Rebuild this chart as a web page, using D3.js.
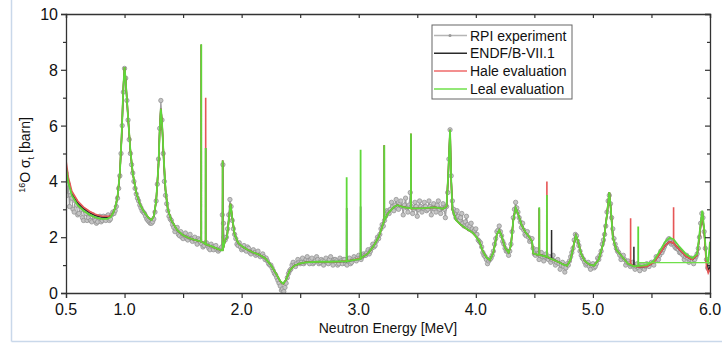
<!DOCTYPE html>
<html>
<head>
<meta charset="utf-8">
<script src="https://cdn.jsdelivr.net/npm/d3@7"></script>
<style>
  body { margin: 0; background: #fff; }
  text { font-family: "Liberation Sans", Arial, sans-serif; fill: #111; }
</style>
</head>
<body>
<div id="main"></div>
<script>
// ENDF/B-VII.1 smooth curve [MeV, barn]
var endfCurve = [
  [0.50,4.55],[0.52,4.0],[0.55,3.55],[0.60,3.22],[0.65,3.02],[0.70,2.88],[0.75,2.78],[0.80,2.72],
  [0.85,2.71],[0.88,2.76],[0.90,2.85],[0.92,3.05],[0.94,3.45],[0.96,4.3],[0.975,5.6],[0.99,7.4],
  [1.00,8.1],[1.01,7.6],[1.03,6.3],[1.05,5.1],[1.07,4.3],[1.10,3.6],[1.13,3.2],[1.16,2.95],
  [1.20,2.72],[1.23,2.62],[1.25,2.75],[1.27,3.3],[1.29,4.6],[1.30,5.8],[1.31,6.6],[1.32,6.1],
  [1.335,4.8],[1.35,3.7],[1.37,3.0],[1.40,2.6],[1.45,2.25],[1.50,2.07],[1.55,1.97],[1.60,1.9],
  [1.65,1.85],[1.70,1.74],[1.75,1.66],[1.80,1.57],[1.83,1.53],[1.86,1.9],[1.875,2.0],[1.89,2.6],
  [1.905,3.2],[1.92,2.7],[1.94,2.1],[1.97,1.8],[2.00,1.68],[2.05,1.55],[2.10,1.45],[2.15,1.37],
  [2.20,1.25],[2.25,1.0],[2.29,0.72],[2.33,0.42],[2.355,0.33],[2.38,0.48],[2.41,0.8],[2.45,0.98],
  [2.50,1.06],[2.55,1.1],[2.65,1.12],[2.75,1.12],[2.85,1.13],[2.95,1.18],[3.02,1.25],[3.08,1.42],
  [3.13,1.7],[3.17,2.0],[3.21,2.5],[3.25,2.85],[3.30,3.08],[3.33,3.15],[3.38,3.08],[3.45,3.03],
  [3.55,3.04],[3.65,3.07],[3.72,3.02],[3.75,3.1],[3.765,4.3],[3.78,5.85],[3.79,4.0],[3.80,3.0],
  [3.83,2.62],[3.87,2.45],[3.92,2.3],[3.97,2.17],[4.00,2.03],[4.03,1.85],[4.06,1.5],[4.09,1.28],
  [4.12,1.18],[4.15,1.45],[4.18,2.1],[4.20,2.25],[4.22,2.05],[4.25,1.62],[4.28,1.45],[4.30,1.7],
  [4.32,2.6],[4.34,3.05],[4.36,2.85],[4.39,2.45],[4.42,2.2],[4.46,1.98],[4.48,1.85],[4.49,1.42],
  [4.52,1.38],[4.56,1.35],[4.60,1.3],[4.64,1.23],[4.70,1.12],[4.75,1.02],[4.78,0.98],[4.81,1.2],
  [4.84,1.8],[4.855,2.06],[4.87,1.9],[4.90,1.4],[4.93,1.15],[4.97,1.02],[5.01,0.98],[5.05,1.2],
  [5.09,1.8],[5.12,2.8],[5.14,3.62],[5.155,2.9],[5.17,2.0],[5.20,1.55],[5.25,1.3],[5.30,1.05],
  [5.35,0.96],[5.40,0.93],[5.46,0.95],[5.52,1.1],[5.57,1.4],[5.62,1.72],[5.655,1.84],[5.69,1.78],
  [5.74,1.55],[5.80,1.3],[5.85,1.2],[5.89,1.35],[5.915,2.2],[5.934,2.88],[5.95,2.2],[5.97,1.1],
  [5.985,0.8],[6.00,0.95]
];

// narrow resonances: [MeV, base, top]
var endfSpikes = [
  [1.655,1.85,8.9],[1.693,1.75,5.2],[1.838,1.53,4.75],[2.897,1.13,3.05],[3.016,1.22,3.1],
  [3.218,2.6,5.3],[3.446,3.03,5.7],[4.542,1.37,3.05],[4.647,1.23,2.26],[5.35,0.96,1.66]
];
var haleSpikes = [
  [1.655,1.85,8.9],[1.693,1.75,7.0],[1.838,1.53,4.75],[3.218,2.6,5.3],[3.446,3.03,5.72],
  [4.542,1.37,3.0],[4.607,1.31,4.0],[5.322,1.04,2.68],[5.689,1.78,3.07]
];
var lealSpikes = [
  [1.655,1.85,8.92],[1.693,1.75,5.2],[1.838,1.53,4.75],[2.897,1.13,4.15],[3.016,1.22,5.13],
  [3.218,2.6,5.3],[3.446,3.03,5.72],[4.542,1.37,3.07],[4.607,1.31,3.51],[5.387,0.97,2.38]
];

// places where an evaluation departs from the ENDF curve
var haleEdits = [
  [[0.50,4.75],[0.52,4.15],[0.55,3.65],[0.60,3.3],[0.65,3.08],[0.70,2.93],[0.75,2.82],[0.80,2.76],[0.85,2.75]],
  [[5.97,0.95],[5.985,0.72],[6.00,0.85]]
];
var lealEdits = [
  [[0.50,4.5],[0.52,3.95],[0.55,3.5],[0.60,3.15],[0.65,2.95],[0.70,2.81],[0.75,2.71],[0.80,2.66],[0.85,2.66],[0.88,2.71]],
  [[5.40,0.97],[5.46,1.0],[5.52,1.15],[5.57,1.5],[5.62,1.85],[5.655,1.98],[5.69,1.92],[5.74,1.65],[5.80,1.38],
   [5.85,1.25],[5.89,1.4],[5.915,2.3],[5.934,2.95],[5.95,2.3],[5.97,1.2],[5.985,1.1],[6.00,1.84]]
];
var lealFlat = [[5.387,1.09],[6.00,1.09]];

// RPI transmission data, even hundredths
var rpiData = [
  [0.50,4.3],[0.51,3.5],[0.52,3.9],[0.53,3.1],[0.54,3.5],[0.56,3.0],[0.58,3.3],[0.60,2.8],[0.62,3.1],
  [0.64,2.7],[0.66,2.95],[0.68,2.6],[0.70,2.85],[0.72,2.55],[0.74,2.75],[0.76,2.5],[0.78,2.7],[0.80,2.55],
  [0.82,2.75],[0.84,2.6],[0.86,2.8],[0.88,2.65],[0.90,2.9],[0.92,2.95],[0.94,3.4],[0.96,4.2],[0.97,5.0],
  [0.98,6.0],[0.99,7.2],[1.00,8.05],[1.01,7.7],[1.02,6.9],[1.03,6.2],[1.04,5.5],[1.05,5.0],[1.06,4.6],
  [1.08,4.0],[1.10,3.55],[1.12,3.3],[1.14,3.05],[1.16,2.9],[1.18,2.75],[1.20,2.6],[1.22,2.5],[1.24,2.55],
  [1.26,2.9],[1.28,3.9],[1.29,4.8],[1.30,5.9],[1.31,6.9],[1.32,6.2],[1.33,5.0],[1.34,4.0],[1.36,3.2],
  [1.38,2.75],[1.40,2.6],[1.42,2.35],[1.44,2.3],[1.46,2.1],[1.48,2.2],[1.50,1.95],[1.52,2.15],[1.54,1.9],
  [1.56,2.1],[1.58,1.85],[1.60,2.0],[1.62,1.75],[1.64,1.9],[1.66,1.75],[1.68,1.7],[1.70,1.8],[1.72,1.6],
  [1.74,1.75],[1.76,1.55],[1.78,1.7],[1.80,1.5],[1.82,1.6],[1.835,2.8],[1.84,4.6],[1.845,2.5],[1.86,1.9],
  [1.88,2.3],[1.90,3.35],[1.91,3.1],[1.92,2.6],[1.94,2.1],[1.96,1.75],[1.98,1.8],[2.00,1.55],[2.02,1.7],
  [2.04,1.5],[2.06,1.6],[2.08,1.4],[2.10,1.55],[2.12,1.35],[2.14,1.5],[2.16,1.3],[2.18,1.4],[2.20,1.2],
  [2.22,1.15],[2.24,1.0],[2.26,0.9],[2.28,0.7],[2.30,0.55],[2.32,0.35],[2.34,0.1],[2.36,0.05],[2.38,0.35],
  [2.40,0.7],[2.42,0.85],[2.44,1.1],[2.46,0.95],[2.48,1.2],[2.50,1.05],[2.52,1.25],[2.54,1.1],[2.56,1.3],
  [2.58,1.05],[2.60,1.25],[2.62,1.1],[2.64,1.3],[2.66,1.05],[2.68,1.2],[2.70,1.0],[2.72,1.25],[2.74,1.05],
  [2.76,1.3],[2.78,1.0],[2.80,1.2],[2.82,1.0],[2.84,1.25],[2.86,1.05],[2.88,1.2],[2.90,1.0],[2.92,1.25],
  [2.94,1.1],[2.96,1.3],[2.98,1.15],[3.00,1.35],[3.02,1.2],[3.04,1.4],[3.06,1.35],[3.08,1.55],[3.10,1.5],
  [3.12,1.75],[3.14,1.7],[3.16,2.0],[3.18,2.1],[3.20,2.45],[3.22,2.6],[3.24,2.95],[3.26,2.85],[3.28,3.25],
  [3.30,2.95],[3.32,3.35],[3.34,3.0],[3.36,3.3],[3.38,2.8],[3.40,3.4],[3.42,2.9],[3.44,3.6],[3.46,2.85],
  [3.48,3.25],[3.50,2.75],[3.52,3.3],[3.54,2.9],[3.56,3.25],[3.58,2.95],[3.60,3.3],[3.62,2.8],[3.64,3.2],
  [3.66,2.9],[3.68,3.3],[3.70,2.85],[3.72,3.2],[3.74,2.7],[3.76,3.6],[3.77,4.8],[3.78,5.85],[3.79,4.2],
  [3.80,3.3],[3.82,2.85],[3.84,2.95],[3.86,2.6],[3.88,2.85],[3.90,2.4],[3.92,2.75],[3.94,2.3],[3.96,2.5],
  [3.98,2.2],[4.00,2.3],[4.02,1.9],[4.04,1.8],[4.06,1.45],[4.08,1.3],[4.10,1.05],[4.12,1.2],[4.14,1.35],
  [4.16,1.75],[4.18,2.2],[4.20,2.4],[4.22,2.05],[4.24,1.75],[4.26,1.5],[4.28,1.35],[4.30,1.75],[4.32,2.7],
  [4.34,3.25],[4.36,2.9],[4.38,2.55],[4.40,2.5],[4.42,2.1],[4.44,2.2],[4.46,1.85],[4.48,1.95],[4.50,1.4],
  [4.52,1.55],[4.54,1.2],[4.56,1.45],[4.58,1.15],[4.60,1.4],[4.62,1.2],[4.64,1.1],[4.66,1.35],[4.68,1.0],
  [4.70,1.2],[4.72,0.85],[4.74,1.1],[4.76,0.75],[4.78,1.05],[4.80,1.15],[4.82,1.45],[4.84,1.9],[4.86,2.05],
  [4.88,1.7],[4.90,1.35],[4.92,1.2],[4.94,1.0],[4.96,1.1],[4.98,0.85],[5.00,1.05],[5.02,0.95],[5.04,1.25],
  [5.06,1.35],[5.08,1.75],[5.10,2.1],[5.12,2.9],[5.14,3.5],[5.16,2.7],[5.18,1.95],[5.20,1.6],[5.22,1.45],
  [5.24,1.2],[5.26,1.35],[5.28,1.0],[5.30,1.15],[5.32,0.95],[5.34,1.1],[5.36,0.85],[5.38,1.05],[5.40,0.8],
  [5.42,1.0],[5.44,0.85],[5.46,1.05],[5.48,0.95],[5.50,1.1],[5.52,1.0],[5.54,1.3],[5.56,1.2],[5.58,1.5],
  [5.60,1.55],[5.62,1.75],[5.64,1.9],[5.66,1.85],[5.68,1.8],[5.70,1.65],[5.72,1.6],[5.74,1.45],[5.76,1.4],
  [5.78,1.2],[5.80,1.35],[5.82,1.1],[5.84,1.25],[5.86,1.05],[5.88,1.3],[5.90,1.6],[5.92,2.5],[5.94,2.7],
  [5.96,1.6],[5.98,0.9],[6.00,1.0]
];

// RPI transmission data, odd hundredths
var rpiDataOdd = [
  [0.55,3.4],[0.57,2.9],[0.59,3.15],[0.61,2.85],[0.63,3.0],[0.65,2.6],[0.67,2.85],[0.69,2.7],[0.71,2.6],
  [0.73,2.8],[0.75,2.6],[0.77,2.55],[0.79,2.75],[0.81,2.6],[0.83,2.65],[0.85,2.75],[0.87,2.6],[0.89,2.8],
  [0.91,2.85],[0.93,3.1],[0.95,3.75],[1.07,4.3],[1.09,3.75],[1.11,3.4],[1.13,3.15],[1.15,2.95],[1.17,2.85],
  [1.19,2.65],[1.21,2.55],[1.23,2.5],[1.25,2.65],[1.27,3.3],[1.35,3.5],[1.37,2.95],[1.39,2.65],[1.41,2.45],
  [1.43,2.2],[1.45,2.35],[1.47,2.05],[1.49,2.0],[1.51,2.05],[1.53,1.95],[1.55,2.0],[1.57,1.95],[1.59,1.95],
  [1.61,1.85],[1.63,1.95],[1.65,1.8],[1.67,1.65],[1.69,1.8],[1.71,1.7],[1.73,1.55],[1.75,1.65],[1.77,1.65],
  [1.79,1.55],[1.81,1.55],[1.83,1.65],[1.85,2.0],[1.87,2.0],[1.89,2.8],[1.93,2.3],[1.95,1.95],[1.97,1.7],
  [1.99,1.65],[2.01,1.6],[2.03,1.55],[2.05,1.65],[2.07,1.45],[2.09,1.5],[2.11,1.45],[2.13,1.4],[2.15,1.35],
  [2.17,1.35],[2.19,1.3],[2.21,1.25],[2.23,1.05],[2.25,1.0],[2.27,0.8],[2.29,0.65],[2.31,0.45],[2.33,0.25],
  [2.35,0.15],[2.37,0.2],[2.39,0.55],[2.41,0.8],[2.43,1.0],[2.45,1.0],[2.47,1.05],[2.49,1.1],[2.51,1.1],
  [2.53,1.05],[2.55,1.2],[2.57,1.15],[2.59,1.2],[2.61,1.05],[2.63,1.15],[2.65,1.2],[2.67,1.1],[2.69,1.15],
  [2.71,1.15],[2.73,1.1],[2.75,1.2],[2.77,1.1],[2.79,1.2],[2.81,1.15],[2.83,1.05],[2.85,1.15],[2.87,1.2],
  [2.89,1.05],[2.91,1.15],[2.93,1.05],[2.95,1.2],[2.97,1.2],[2.99,1.25],[3.01,1.25],[3.03,1.3],[3.05,1.35],
  [3.07,1.45],[3.09,1.4],[3.11,1.6],[3.13,1.65],[3.15,1.85],[3.17,1.95],[3.19,2.3],[3.21,2.4],[3.23,2.75],
  [3.25,2.9],[3.27,3.0],[3.29,3.1],[3.31,3.15],[3.33,3.05],[3.35,3.2],[3.37,3.1],[3.39,3.15],[3.41,3.05],
  [3.43,3.15],[3.45,3.1],[3.47,3.0],[3.49,3.1],[3.51,3.0],[3.53,3.1],[3.55,3.05],[3.57,3.1],[3.59,3.0],
  [3.61,3.1],[3.63,3.05],[3.65,3.0],[3.67,3.15],[3.69,3.0],[3.71,3.05],[3.73,3.0],[3.75,3.1],[3.81,3.0],
  [3.83,2.7],[3.85,2.75],[3.87,2.7],[3.89,2.5],[3.91,2.55],[3.93,2.45],[3.95,2.4],[3.97,2.3],[3.99,2.25],
  [4.01,2.1],[4.03,1.85],[4.05,1.65],[4.07,1.35],[4.09,1.2],[4.11,1.15],[4.13,1.25],[4.15,1.5],[4.17,1.95],
  [4.19,2.25],[4.21,2.2],[4.23,1.85],[4.25,1.6],[4.27,1.5],[4.29,1.5],[4.31,2.2],[4.33,3.0],[4.35,3.05],
  [4.37,2.7],[4.39,2.35],[4.41,2.25],[4.43,2.05],[4.45,2.0],[4.47,1.9],[4.49,1.6],[4.51,1.35],[4.53,1.4],
  [4.55,1.35],[4.57,1.3],[4.59,1.3],[4.61,1.25],[4.63,1.3],[4.65,1.2],[4.67,1.15],[4.69,1.1],[4.71,1.05],
  [4.73,1.0],[4.75,0.95],[4.77,0.9],[4.79,1.0],[4.81,1.3],[4.83,1.6],[4.85,2.1],[4.87,1.85],[4.89,1.5],
  [4.91,1.25],[4.93,1.1],[4.95,1.05],[4.97,0.95],[4.99,1.0],[5.01,0.9],[5.03,1.05],[5.05,1.2],[5.07,1.5],
  [5.09,1.9],[5.11,2.4],[5.13,3.3],[5.15,3.2],[5.17,2.3],[5.19,1.75],[5.21,1.5],[5.23,1.35],[5.25,1.3],
  [5.27,1.2],[5.29,1.1],[5.31,1.05],[5.33,1.0],[5.35,0.95],[5.37,0.95],[5.39,0.9],[5.41,0.95],[5.43,0.9],
  [5.45,0.95],[5.47,1.0],[5.49,1.05],[5.51,1.05],[5.53,1.15],[5.55,1.25],[5.57,1.35],[5.59,1.45],[5.61,1.65],
  [5.63,1.8],[5.65,1.95],[5.67,1.75],[5.69,1.75],[5.71,1.6],[5.73,1.55],[5.75,1.45],[5.77,1.35],[5.79,1.3],
  [5.81,1.25],[5.83,1.2],[5.85,1.15],[5.87,1.2],[5.89,1.4],[5.91,2.0],[5.93,2.85],[5.95,2.2],[5.97,1.2],
  [5.99,0.85]
];

var xTicks = [0.5, 1, 1.5, 2, 2.5, 3, 3.5, 4, 4.5, 5, 5.5, 6];
var xLabels = [0.5, 1, 2, 3, 4, 5, 6];
var yTicks = [0, 1, 2, 3, 4, 5, 6, 7, 8, 9, 10];
var yLabels = [0, 2, 4, 6, 8, 10];

var legendItems = [
  { name: 'RPI experiment', color: '#b5b5b5', dot: true },
  { name: 'ENDF/B-VII.1', color: '#2a2a2a' },
  { name: 'Hale evaluation', color: '#ef6a6a' },
  { name: 'Leal evaluation', color: '#6fe04a' }
];

function applyEdits(base, edits) {
  var out = base;
  edits.forEach(function(seg) {
    var lo = seg[0][0], hi = seg[seg.length - 1][0];
    out = out.filter(function(p) { return p[0] < lo || p[0] > hi; }).concat(seg);
  });
  return out.sort(function(a, b) { return a[0] - b[0]; });
}

function addSpikes(curve, spikes) {
  var pts = curve.slice();
  spikes.forEach(function(s) {
    pts.push([s[0] - 0.0004, s[1]], [s[0], s[2]], [s[0] + 0.0004, s[1]]);
  });
  return pts.sort(function(a, b) { return a[0] - b[0]; });
}

var endfSeries = addSpikes(endfCurve, endfSpikes);
var haleSeries = addSpikes(applyEdits(endfCurve, haleEdits), haleSpikes);
var lealSeries = addSpikes(applyEdits(endfCurve, lealEdits), lealSpikes);
var rpiAll = rpiData.concat(rpiDataOdd).sort(function(a, b) { return a[0] - b[0]; });

var W = 722, H = 346;
var margin = { left: 66, right: 12, top: 14, bottom: 53 };

var svg = d3.select('#main').append('svg')
  .attr('width', W)
  .attr('height', H);

// screenshot frame
svg.append('line').attr('x1', 11.5).attr('x2', 11.5).attr('y1', 0).attr('y2', 341.5)
  .attr('stroke', '#c9d8ea').attr('stroke-width', 1.5);
svg.append('line').attr('x1', 11.5).attr('x2', W).attr('y1', 341.5).attr('y2', 341.5)
  .attr('stroke', '#c9d8ea').attr('stroke-width', 1.5);

var x = d3.scaleLinear().domain([0.5, 6]).range([margin.left, W - margin.right]);
var y = d3.scaleLinear().domain([0, 10]).range([H - margin.bottom, margin.top]);

svg.append('clipPath').attr('id', 'plot')
  .append('rect')
  .attr('x', x(0.5)).attr('y', y(10))
  .attr('width', x(6) - x(0.5)).attr('height', y(0) - y(10));

var g = svg.append('g').attr('clip-path', 'url(#plot)');

var line = d3.line()
  .x(function(d) { return x(d[0]); })
  .y(function(d) { return y(d[1]); });

// experiment
g.append('path')
  .datum(rpiAll)
  .attr('d', line)
  .attr('fill', 'none')
  .attr('stroke', '#a0a0a0')
  .attr('stroke-width', 1.2);

g.selectAll('circle.rpi')
  .data(rpiAll)
  .enter()
  .append('circle')
  .attr('class', 'rpi')
  .attr('cx', function(d) { return x(d[0]); })
  .attr('cy', function(d) { return y(d[1]); })
  .attr('r', 2.2)
  .attr('fill', '#c4c4c4')
  .attr('stroke', '#8c8c8c')
  .attr('stroke-width', 0.7);

// evaluations
g.append('path').datum(endfSeries).attr('d', line)
  .attr('fill', 'none').attr('stroke', '#2a2a2a').attr('stroke-width', 1.5);
g.append('path').datum(haleSeries).attr('d', line)
  .attr('fill', 'none').attr('stroke', '#e65656').attr('stroke-width', 1.6);
g.append('path').datum(lealSeries).attr('d', line)
  .attr('fill', 'none').attr('stroke', '#5fd83a').attr('stroke-width', 1.8);
g.append('path').datum(lealFlat).attr('d', line)
  .attr('fill', 'none').attr('stroke', '#6fe04a').attr('stroke-width', 1.4);

// axes: outward on left/bottom, inward on top/right
var axisColor = '#333';
var axBottom = svg.append('g').attr('transform', 'translate(0,' + y(0) + ')')
  .call(d3.axisBottom(x).tickValues(xTicks).tickSize(5).tickFormat(''));
var axTop = svg.append('g').attr('transform', 'translate(0,' + y(10) + ')')
  .call(d3.axisBottom(x).tickValues(xTicks).tickSize(4).tickFormat(''));
var axLeft = svg.append('g').attr('transform', 'translate(' + x(0.5) + ',0)')
  .call(d3.axisLeft(y).tickValues(yTicks).tickSize(5).tickFormat(''));
var axRight = svg.append('g').attr('transform', 'translate(' + x(6) + ',0)')
  .call(d3.axisLeft(y).tickValues(yTicks).tickSize(5).tickFormat(''));

[axBottom, axTop, axLeft, axRight].forEach(function(a) {
  a.select('.domain').attr('stroke', axisColor).attr('stroke-width', 1.3);
  a.selectAll('.tick line').attr('stroke', axisColor).attr('stroke-width', 1.2);
});
axLeft.selectAll('.tick line').attr('x2', function(d) { return d % 2 ? -3 : -5; });
axRight.selectAll('.tick line').attr('x2', function(d) { return d % 2 ? -3 : -5; });

svg.selectAll('text.xl')
  .data(xLabels)
  .enter()
  .append('text')
  .attr('class', 'xl')
  .attr('x', function(d) { return x(d); })
  .attr('y', y(0) + 22)
  .attr('text-anchor', 'middle')
  .attr('font-size', 16)
  .text(function(d) { return d3.format('.1f')(d); });

svg.selectAll('text.yl')
  .data(yLabels)
  .enter()
  .append('text')
  .attr('class', 'yl')
  .attr('x', x(0.5) - 8)
  .attr('y', function(d) { return y(d) + 6; })
  .attr('text-anchor', 'end')
  .attr('font-size', 16)
  .text(function(d) { return d; });

svg.append('text')
  .attr('x', (x(0.5) + x(6)) / 2)
  .attr('y', 333)
  .attr('text-anchor', 'middle')
  .attr('font-size', 14)
  .text('Neutron Energy [MeV]');

var yt = svg.append('text')
  .attr('transform', 'translate(30,155) rotate(-90)')
  .attr('text-anchor', 'middle')
  .attr('font-size', 14);
yt.append('tspan').attr('font-size', 9).attr('dy', -5).text('16');
yt.append('tspan').attr('dy', 5).text('O \u03c3');
yt.append('tspan').attr('font-size', 9).attr('dy', 4).text('t');
yt.append('tspan').attr('dy', -4).text(' [barn]');

// legend
var lg = svg.append('g').attr('transform', 'translate(432,25)');
lg.append('rect').attr('width', 140).attr('height', 74)
  .attr('fill', '#fff').attr('stroke', '#666').attr('stroke-width', 1);
var rows = lg.selectAll('g.row')
  .data(legendItems)
  .enter()
  .append('g')
  .attr('transform', function(d, i) { return 'translate(0,' + (10.5 + i * 17.8) + ')'; });
rows.append('line').attr('x1', 2).attr('x2', 35)
  .attr('stroke', function(d) { return d.color; }).attr('stroke-width', 1.5);
rows.filter(function(d) { return d.dot; }).append('circle')
  .attr('cx', 18).attr('r', 1.5).attr('fill', '#999');
rows.append('text').attr('x', 38).attr('y', 5).attr('font-size', 14)
  .text(function(d) { return d.name; });
</script>
</body>
</html>
